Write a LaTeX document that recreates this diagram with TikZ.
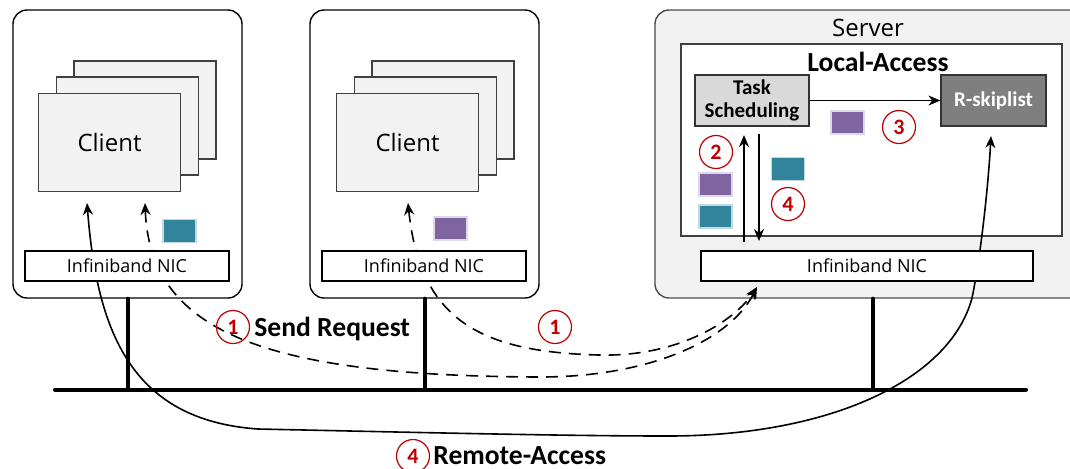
\documentclass[tikz,border=0pt]{standalone}
\usepackage{fontspec}
\setmainfont{Carlito}
\newfontfamily\uifont{Open Sans}
\usetikzlibrary{arrows.meta}

\definecolor{cardgray}{HTML}{F2F2F2}
\definecolor{taskgray}{HTML}{D9D9D9}
\definecolor{skipgray}{HTML}{7F7F7F}
\definecolor{pktteal}{HTML}{31849B}
\definecolor{pktpurple}{HTML}{8064A2}
\definecolor{stepred}{HTML}{C00000}

\tikzset{
  machine/.style={draw,rounded corners=7pt,line width=0.7pt,inner sep=0pt},
  card/.style={draw=black!75,fill=cardgray,minimum width=71pt,minimum height=49pt,inner sep=0pt,line width=0.6pt},
  nic/.style={draw,fill=white,minimum height=15pt,inner sep=0pt,line width=0.6pt,font=\uifont\fontsize{9}{10}\selectfont},
  pkt/.style={minimum width=16.5pt,minimum height=11.5pt,inner sep=0pt,line width=0.6pt},
  tealpkt/.style={pkt,fill=pktteal,draw=pktteal!30},
  purplepkt/.style={pkt,fill=pktpurple,draw=pktpurple!25},
  stepnum/.style={circle,draw=stepred,text=stepred,minimum size=16.5pt,inner sep=0pt,line width=0.6pt,font=\bfseries\fontsize{11}{11}\selectfont},
  procbox/.style={draw=black!80,minimum height=25.5pt,inner sep=0pt,line width=0.6pt,align=center,font=\bfseries\fontsize{10.5}{11.5}\selectfont},
  biglabel/.style={font=\bfseries\fontsize{13.8}{15}\selectfont},
  bus/.style={line width=2pt,line cap=round},
  tip/.style={-{Stealth[length=6pt,width=5pt]}},
  bothtips/.style={{Stealth[length=6pt,width=5pt]}-{Stealth[length=6pt,width=5pt]}},
  flow/.style={line width=0.8pt},
  sendflow/.style={flow,dash pattern=on 6pt off 4pt}
}

\begin{document}
\begin{tikzpicture}[x=0.5pt,y=-0.5pt]
  \useasboundingbox (0,0) rectangle (1070,468);
  % Machines
  \node[machine,minimum width=114.5pt,minimum height=144pt] (M1) at (127.5,154) {};
  \node[machine,minimum width=114.5pt,minimum height=144pt] (M2) at (424.5,154) {};
  \node[machine,draw=black!70,fill=cardgray,minimum width=217.5pt,minimum height=144pt] (S) at (872.5,154) {};
  \node[font=\uifont\fontsize{12}{14}\selectfont] (SL) at (868,28) {Server};
  \node[draw=black!75,fill=white,line width=0.6pt,minimum width=190.5pt,minimum height=96pt,inner sep=0pt] (LA) at (871.5,140) {};
  \node[biglabel] (LAL) at (878,62) {Local-Access};
  % Bus
  \coordinate (busL) at (55,389.5);
  \coordinate (busR) at (1026,389.5);
  \draw[bus] (busL) -- (busR);
  \draw[bus] (M1.south) -- (M1.south |- busL);
  \draw[bus] (M2.south) -- (M2.south |- busL);
  \draw[bus] (S.south) -- (S.south |- busL);
  % Flow ends
  \coordinate (R1) at (87,203);
  \coordinate (D1) at (145,203);
  \coordinate (D2) at (408,203);
  \coordinate (SN) at (757,287);
  \coordinate (R2) at (991,136);
  % Send Request
  \draw[sendflow,bothtips] (D1) .. controls (150,330) and (260,376) .. (540,377)
        .. controls (650,377) and (730,340) .. (SN);
  \draw[sendflow,bothtips] (D2) .. controls (420,320) and (480,352) .. (599,355)
        .. controls (680,357) and (735,320) .. (SN);
  % Remote-Access
  \draw[flow,bothtips]
        (R1) .. controls (97,330) and (130,420) .. (258,429)
        .. controls (400,432) and (560,436) .. (668,436)
        .. controls (830,436) and (950,380) .. (972,298)
        .. controls (980,260) and (988,190) .. (R2);
  % NICs
  \node[nic,minimum width=102pt] (N1) at (127,266) {Infiniband NIC};
  \node[nic,minimum width=102pt] (N2) at (424,266) {Infiniband NIC};
  \node[nic,minimum width=166pt] (N3) at (867,266) {Infiniband NIC};
  % Clients
  \node[card] (C1c) at (145,110) {};
  \node[card] (C1b) at (127.5,126) {};
  \node[card,font=\uifont\fontsize{12}{14}\selectfont] (C1a) at (109.5,142.5) {Client};
  \node[card] (C2c) at (443,110) {};
  \node[card] (C2b) at (425.5,126) {};
  \node[card,font=\uifont\fontsize{12}{14}\selectfont] (C2a) at (407.5,142.5) {Client};
  % Packets
  \node[tealpkt] (P1) at (179.5,231) {};
  \node[purplepkt] (P2) at (450.5,228.5) {};
  \node[purplepkt] (P3) at (847.5,122.5) {};
  \node[purplepkt] (P4) at (715.5,184.5) {};
  \node[tealpkt] (P5) at (715.5,216.5) {};
  \node[tealpkt] (P6) at (788,169) {};
  % Server parts
  \node[procbox,fill=taskgray,minimum width=57pt] (T) at (752,100.5) {Task\\Scheduling};
  \node[procbox,fill=skipgray,text=white,minimum width=52.5pt] (R) at (993.5,100.5) {R-skiplist};
  \draw[line width=0.6pt,tip] (T.east) -- (R.west);
  \coordinate (U0) at (744,242);
  \coordinate (U1) at (744,135);
  \coordinate (W0) at (759,134);
  \coordinate (W1) at (759,241);
  \draw[line width=0.6pt,tip] (U0) -- (U1);
  \draw[line width=0.6pt,tip] (W0) -- (W1);
  % Steps
  \node[stepnum] (K1a) at (233,327) {1};
  \node[stepnum] (K1b) at (555,327) {1};
  \node[stepnum] (K2) at (716,152) {2};
  \node[stepnum] (K3) at (899,127) {3};
  \node[stepnum] (K4a) at (788,204) {4};
  \node[stepnum] (K4b) at (413,456) {4};
  \node[biglabel,anchor=base west,inner sep=1pt] (SR) at (252,336) {Send Request};
  \node[biglabel,anchor=base west,inner sep=1pt] (RA) at (431,464) {Remote-Access};
\end{tikzpicture}
\end{document}
